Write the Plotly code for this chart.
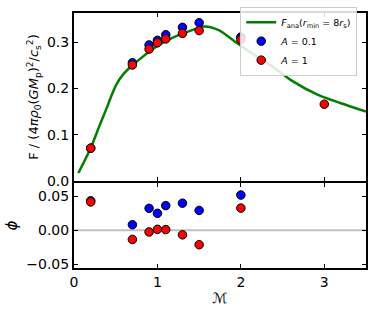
import plotly.graph_objects as go

# Analytic curve F_ana(r_min = 8 r_s)
mach_curve = [0.052, 0.2, 0.314, 0.393, 0.452, 0.512, 0.592, 0.69, 0.82, 0.94, 1.14, 1.34, 1.57, 1.735, 1.93, 2.09, 2.37, 2.61, 2.925, 3.2, 3.5]
f_curve = [0.0173, 0.0715, 0.1235, 0.158, 0.186, 0.210, 0.231, 0.2485, 0.268, 0.285, 0.306, 0.321, 0.334, 0.326, 0.301, 0.281, 0.2485, 0.217, 0.186, 0.168, 0.150]

# Simulations
mach_a01 = [0.2, 0.7, 0.9, 1.0, 1.1, 1.3, 1.5, 2.0]
f_a01 = [0.071, 0.2556, 0.294, 0.304, 0.316, 0.332, 0.342, 0.311]
phi_a01 = [0.043, 0.0081, 0.032, 0.0248, 0.036, 0.0396, 0.029, 0.0514]

mach_a1 = [0.2, 0.7, 0.9, 1.0, 1.1, 1.3, 1.5, 2.0, 3.0]
f_a1 = [0.071, 0.2507, 0.285, 0.2986, 0.307, 0.319, 0.325, 0.3056, 0.166]
mach_a1_phi = [0.2, 0.7, 0.9, 1.0, 1.1, 1.3, 1.5, 2.0]
phi_a1 = [0.0414, -0.0133, -0.0024, 0.0014, 0.001, -0.0066, -0.021, 0.0324]

x_ticks = [0, 1, 2, 3]
y_ticks_top = [0.0, 0.1, 0.2, 0.3]
y_ticks_bot = [-0.05, 0.0, 0.05]

FONT = "DejaVu Sans"
fig = go.Figure()

fig.add_trace(go.Scatter(x=mach_curve, y=f_curve, mode="lines",
                         line=dict(color="green", width=2.5, shape="spline", smoothing=0.8),
                         name="<i>F</i><sub>ana</sub>(<i>r</i><sub>min</sub> = 8<i>r</i><sub>s</sub>)",
                         xaxis="x", yaxis="y"))
mk = lambda c: dict(color=c, size=8.5, line=dict(color="black", width=1))
fig.add_trace(go.Scatter(x=mach_a01, y=f_a01, mode="markers", marker=mk("#0000ff"),
                         name="<i>A</i> = 0.1", xaxis="x", yaxis="y"))
fig.add_trace(go.Scatter(x=mach_a1, y=f_a1, mode="markers", marker=mk("#ff0000"),
                         name="<i>A</i> = 1", xaxis="x", yaxis="y"))

# zero line in lower panel
fig.add_trace(go.Scatter(x=[0, 3.5], y=[0, 0], mode="lines",
                         line=dict(color="#c0c0c0", width=2),
                         showlegend=False, hoverinfo="skip", xaxis="x2", yaxis="y2"))
fig.add_trace(go.Scatter(x=mach_a01, y=phi_a01, mode="markers", marker=mk("#0000ff"),
                         showlegend=False, xaxis="x2", yaxis="y2"))
fig.add_trace(go.Scatter(x=mach_a1_phi, y=phi_a1, mode="markers", marker=mk("#ff0000"),
                         showlegend=False, xaxis="x2", yaxis="y2"))

axis_common = dict(showline=True, linecolor="black", linewidth=2, mirror="ticks",
                   ticks="inside", ticklen=4, tickwidth=1.2, tickcolor="black",
                   showgrid=False, zeroline=False,
                   tickfont=dict(family=FONT, size=14, color="black"))

fig.update_layout(
    width=374, height=312,
    margin=dict(l=74, r=8, t=7, b=44),
    plot_bgcolor="white", paper_bgcolor="white",
    font=dict(family=FONT, color="black"),
    xaxis=dict(domain=[0, 1], range=[0, 3.5], anchor="y", tickvals=x_ticks,
               showticklabels=False, **axis_common),
    yaxis=dict(domain=[0.341, 1], range=[0, 0.363], anchor="x", tickvals=y_ticks_top,
               ticktext=["0.0", "0.1", "0.2", "0.3"],
               title=dict(text="F / (4<i>πρ</i><sub>0</sub>(<i>GM</i><sub>p</sub>)<sup>2</sup>/<i>c</i><sub>s</sub><sup>2</sup>)",
                          font=dict(family=FONT, size=13), standoff=5),
               **axis_common),
    xaxis2=dict(domain=[0, 1], range=[0, 3.5], anchor="y2", tickvals=x_ticks,
                title=dict(text="<i>ℳ</i>", font=dict(family=FONT, size=14), standoff=4),
                **axis_common),
    yaxis2=dict(domain=[0, 0.3333], range=[-0.055, 0.069], anchor="x2", tickvals=y_ticks_bot,
                ticktext=["−0.05", "0.00", "0.05"],
                title=dict(text="<i>ϕ</i>", font=dict(family=FONT, size=15), standoff=5),
                **axis_common),
    legend=dict(x=0.97, y=1.025, xanchor="right", yanchor="top",
                bgcolor="rgba(255,255,255,0.85)", bordercolor="#cccccc", borderwidth=1,
                font=dict(family=FONT, size=9.5), tracegroupgap=0,
                itemwidth=30),
    showlegend=True,
)

fig.write_html("out.html", config={"displayModeBar": False},
               post_script="document.body.style.margin='0';document.body.style.overflow='hidden';")
